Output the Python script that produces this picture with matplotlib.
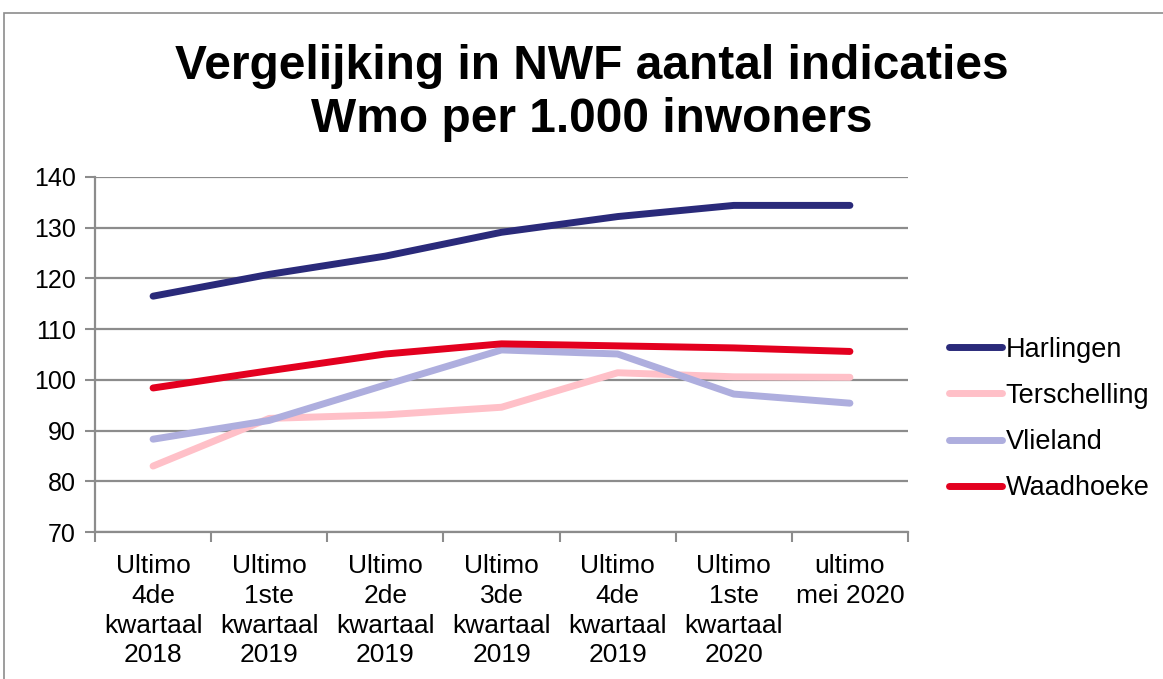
import matplotlib
matplotlib.use("Agg")
import matplotlib.pyplot as plt
from matplotlib.patches import Rectangle

categories = ["Ultimo\n4de\nkwartaal\n2018", "Ultimo\n1ste\nkwartaal\n2019",
              "Ultimo\n2de\nkwartaal\n2019", "Ultimo\n3de\nkwartaal\n2019",
              "Ultimo\n4de\nkwartaal\n2019", "Ultimo\n1ste\nkwartaal\n2020",
              "ultimo\nmei 2020"]
harlingen = [116.5, 120.8, 124.4, 129.1, 132.2, 134.4, 134.4]
terschelling = [83.0, 92.4, 93.1, 94.6, 101.4, 100.6, 100.5]
vlieland = [88.3, 92.0, 99.0, 105.9, 105.1, 97.2, 95.4]
waadhoeke = [98.4, 101.8, 105.1, 107.1, 106.7, 106.3, 105.6]
series_names = ["Harlingen", "Terschelling", "Vlieland", "Waadhoeke"]
colors = ["#2A2A7A", "#FFC0C8", "#AEAEDE", "#E3001F"]
y_ticks = [70, 80, 90, 100, 110, 120, 130, 140]

plt.rcParams['font.family'] = ['Liberation Sans', 'DejaVu Sans']

W, H = 1163, 679
fig = plt.figure(figsize=(W/100, H/100), dpi=100)
fig.patches.append(Rectangle((4/W, -0.1), 1.2, 1.1 - 13/H, transform=fig.transFigure,
                             fill=False, edgecolor="#8C8C8C", linewidth=1.2))

ax = fig.add_axes([95/W, 1-532/H, (908-95)/W, (532-177)/H])
x = list(range(len(categories)))
for vals, name, c in zip([harlingen, terschelling, vlieland, waadhoeke], series_names, colors):
    ax.plot(x, vals, color=c, linewidth=5, solid_capstyle='round', solid_joinstyle='round',
            label=name, zorder=3)

ax.set_xlim(-0.5, len(categories)-0.5)
ax.set_ylim(70, 140)
ax.set_yticks(y_ticks)
ax.set_yticklabels([str(v) for v in y_ticks], fontsize=18)
ax.yaxis.grid(True, color="#8C8C8C", linewidth=1.6)
ax.set_axisbelow(True)

ax.set_xticks(x)
ax.set_xticklabels(categories, fontsize=19, linespacing=1.3)
ax.tick_params(axis='x', length=0, pad=16)
ax.set_xticks([i - 0.5 for i in range(len(categories)+1)], minor=True)
ax.tick_params(axis='x', which='minor', length=7, width=1.5, color="#8C8C8C", direction='out')
ax.tick_params(axis='y', length=7, width=1.5, color="#8C8C8C", direction='out', pad=7)

for s in ['top', 'right']:
    ax.spines[s].set_visible(False)
for s in ['left', 'bottom']:
    ax.spines[s].set_color("#8C8C8C")
    ax.spines[s].set_linewidth(1.6)

fig.text(592/W, 1-93/H, "Vergelijking in NWF aantal indicaties\nWmo per 1.000 inwoners",
         ha='center', va='center', fontsize=34.5, fontweight='bold', linespacing=1.25)

leg = fig.legend(loc='center left', bbox_to_anchor=(925/W, 1-419/H), frameon=False,
                 fontsize=19.5, handlelength=1.95, handletextpad=0.12, labelspacing=0.74)
for line in leg.get_lines():
    line.set_linewidth(5)

fig.savefig("out.png", dpi=100)
